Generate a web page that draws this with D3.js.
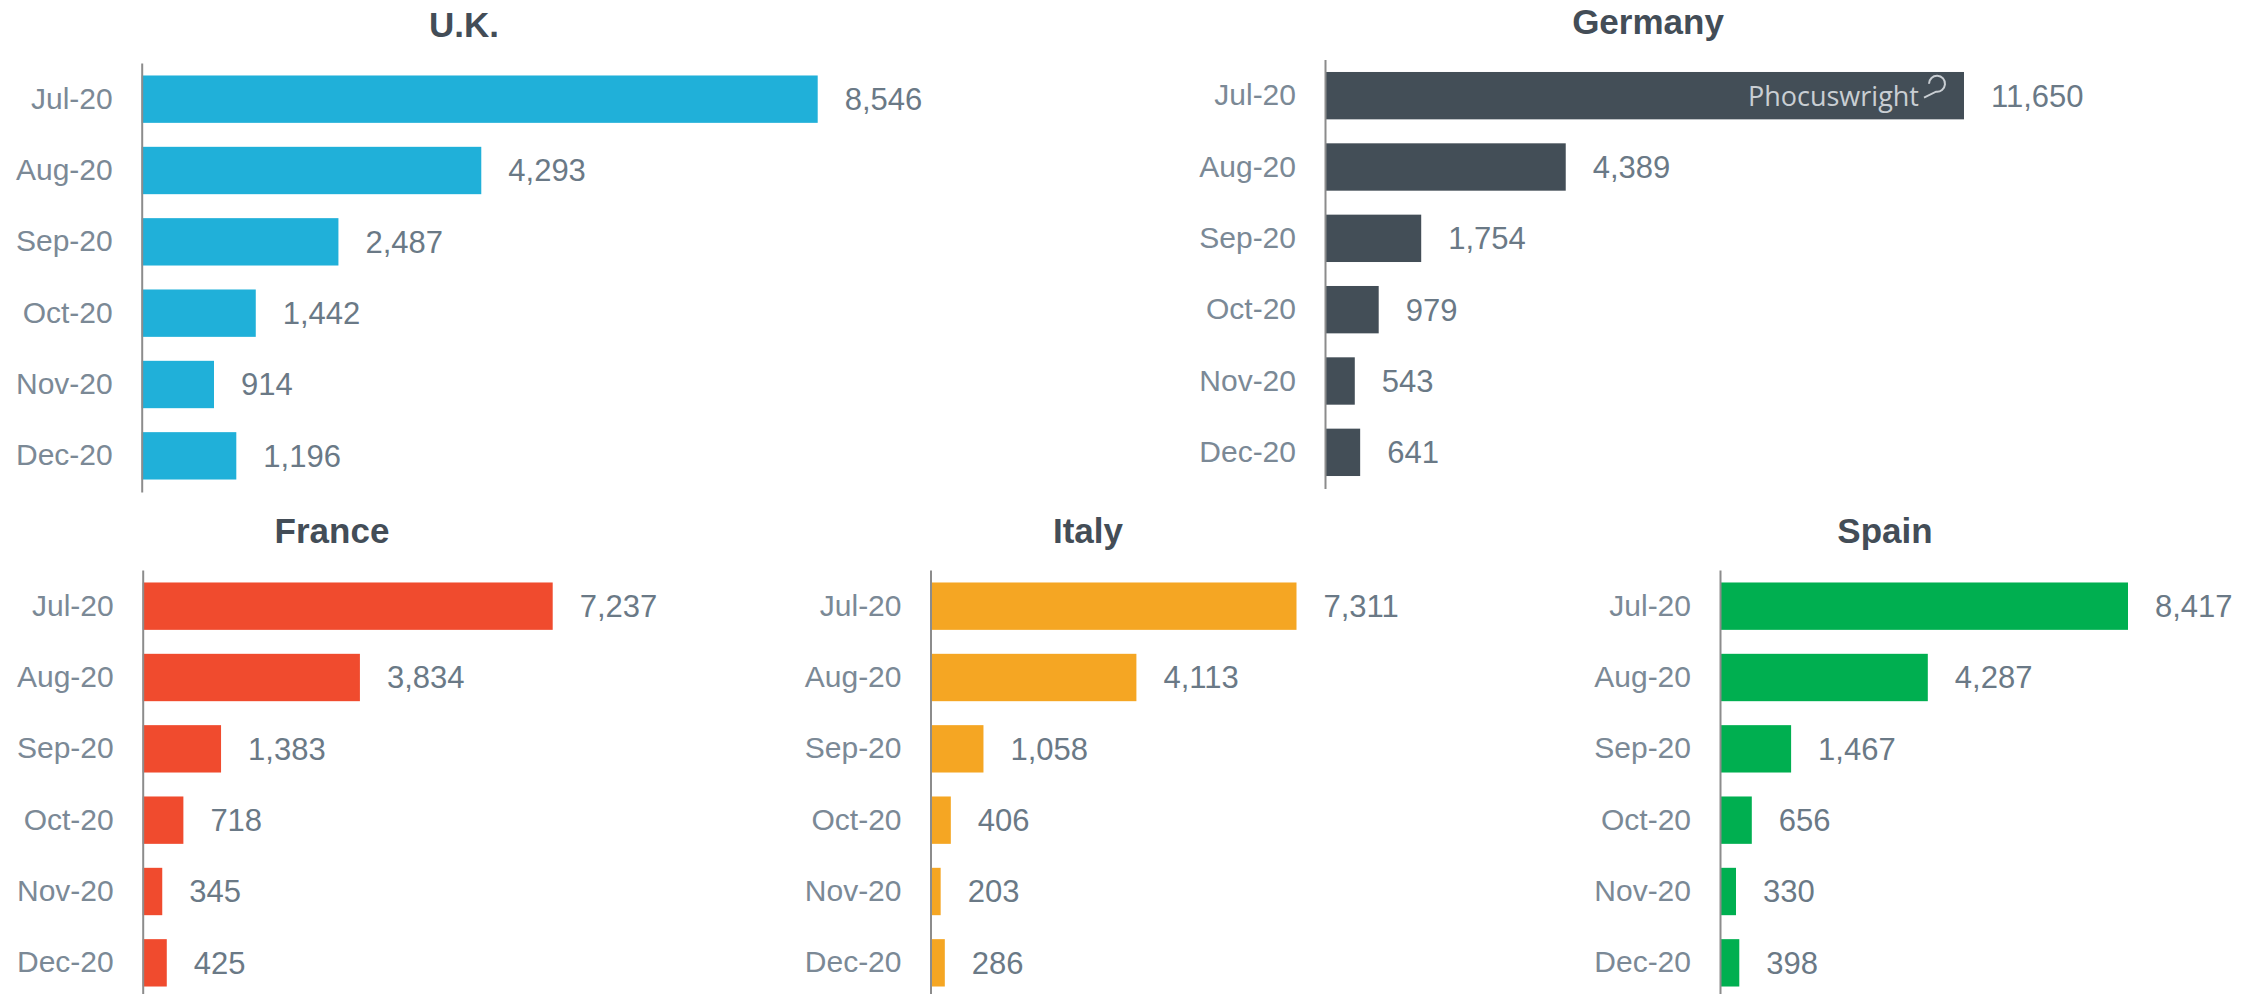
<!DOCTYPE html>
<html>
<head>
<meta charset="utf-8">
<script src="https://cdn.jsdelivr.net/npm/d3@7"></script>
<style>
  html, body { margin: 0; padding: 0; background: #ffffff; }
  svg { display: block; }
</style>
</head>
<body>
<svg id="chart" width="2251" height="994"></svg>
<script>
// ---- data ----
const months = ["Jul-20", "Aug-20", "Sep-20", "Oct-20", "Nov-20", "Dec-20"];
const ukValues = [8546, 4293, 2487, 1442, 914, 1196];
const germanyValues = [11650, 4389, 1754, 979, 543, 641];
const franceValues = [7237, 3834, 1383, 718, 345, 425];
const italyValues = [7311, 4113, 1058, 406, 203, 286];
const spainValues = [8417, 4287, 1467, 656, 330, 398];
const countryNames = ["U.K.", "Germany", "France", "Italy", "Spain"];

// ---- layout / style ----
const panels = [
  { name: countryNames[0], values: ukValues,      color: "#20B0D9", axisX: 141.7, top: 63,   titleX: 464,  titleY: 37,   maxLen: 676 },
  { name: countryNames[1], values: germanyValues, color: "#434E57", axisX: 1325,  top: 59.5, titleX: 1648, titleY: 33.5, maxLen: 639 },
  { name: countryNames[2], values: franceValues,  color: "#F04B2E", axisX: 142.7, top: 570,  titleX: 332,  titleY: 543,  maxLen: 410 },
  { name: countryNames[3], values: italyValues,   color: "#F5A623", axisX: 930.5, top: 570,  titleX: 1088, titleY: 543,  maxLen: 366 },
  { name: countryNames[4], values: spainValues,   color: "#00AF50", axisX: 1720,  top: 570,  titleX: 1885, titleY: 543,  maxLen: 408 }
];
const axisHeight = 429;
const fontFamily = "'Liberation Sans', Arial, Helvetica, sans-serif";
const labelColor = "#7B8996";
const valueColor = "#6A7986";
const titleColor = "#434D57";
const fmt = d3.format(",");

const svg = d3.select("#chart");

panels.forEach((p, pi) => {
  const data = months.map((m, i) => ({ month: m, value: p.values[i] }));
  const maxV = d3.max(p.values);
  const x = d3.scaleLinear().domain([0, maxV]).range([p.axisX, p.axisX + p.maxLen]);
  const y = d3.scaleBand().domain(months).range([p.top, p.top + axisHeight])
    .paddingInner(0.336).paddingOuter(0.175);

  const g = svg.append("g");

  // title
  g.append("text")
    .attr("x", p.titleX).attr("y", p.titleY)
    .attr("text-anchor", "middle")
    .attr("font-family", fontFamily)
    .attr("font-weight", "bold")
    .attr("font-size", 35)
    .attr("fill", titleColor)
    .text(p.name);

  // bars
  g.selectAll("rect.bar").data(data).enter().append("rect")
    .attr("class", "bar")
    .attr("x", x(0))
    .attr("y", d => y(d.month))
    .attr("width", d => x(d.value) - x(0))
    .attr("height", y.bandwidth())
    .attr("fill", p.color);

  // value labels
  g.selectAll("text.val").data(data).enter().append("text")
    .attr("class", "val")
    .attr("x", d => x(d.value) + 27)
    .attr("y", d => y(d.month) + y.bandwidth() / 2)
    .attr("dy", "0.35em")
    .attr("font-family", fontFamily)
    .attr("font-size", 31)
    .attr("fill", valueColor)
    .text(d => fmt(d.value));

  // category axis
  const axis = d3.axisLeft(y).tickSize(0).tickSizeOuter(0).tickPadding(29);
  const ag = g.append("g").attr("transform", `translate(${x(0)},0)`).call(axis);
  ag.select(".domain").attr("stroke", "#8C8C8C").attr("stroke-width", 2);
  ag.selectAll(".tick text")
    .attr("font-family", fontFamily)
    .attr("font-size", 30)
    .attr("fill", labelColor);

  // watermark inside Germany's first bar
  if (pi === 1) {
    const d0 = data[0];
    const endX = x(d0.value);
    const cy = y(d0.month) + y.bandwidth() / 2;
    g.append("text")
      .attr("x", endX - 45)
      .attr("y", cy + 10)
      .attr("text-anchor", "end")
      .attr("font-family", "'Open Sans', 'Liberation Sans', Arial, sans-serif")
      .attr("font-size", 27)
      .attr("fill", "#C9CED3")
      .text("Phocuswright");
    g.append("path")
      .attr("d", `M ${endX - 35} ${cy - 12}
                  A 8 8 0 1 1 ${endX - 28} ${cy - 4}
                  L ${endX - 40} ${cy + 2}`)
      .attr("fill", "none")
      .attr("stroke", "#C9CED3")
      .attr("stroke-width", 2);
  }
});
</script>
</body>
</html>
